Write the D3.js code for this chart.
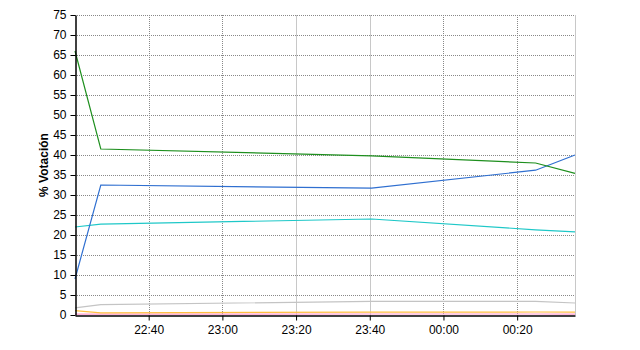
<!DOCTYPE html>
<html><head><meta charset="utf-8">
<script src="https://cdn.jsdelivr.net/npm/d3@7"></script>
<style>body{margin:0;background:#fff}svg{display:block}text{font-family:"Liberation Sans",Arial,sans-serif}</style>
</head><body><svg id="c" width="640" height="350"></svg>
<script>
// data: minutes after 22:20
const times = [0, 7, 80.5, 125, 135.7];
const green = [66, 41.5, 39.8, 38, 35.4];
const blue = [9, 32.5, 31.7, 36.2, 40];
const cyan = [22, 22.7, 24, 21.3, 20.8];
const gray = [1.8, 2.6, 3.4, 3.4, 3.0];
const orange = [1.1, 0.55, 0.7, 0.75, 0.7];
const pink = [0.2, 0.2, 0.25, 0.25, 0.2];
const yTicks = [0,5,10,15,20,25,30,35,40,45,50,55,60,65,70,75];
const xTickLabels = ["22:40","23:00","23:20","23:40","00:00","00:20"];
const xTickMinutes = [20,40,60,80,100,120];
const solidGrid = ["23:20","23:40"];
const series = [
  {v: gray, c: "#c4c4c4"},
  {v: pink, c: "#ff99cc"},
  {v: orange, c: "#ffc040"},
  {v: cyan, c: "#1fc8c8"},
  {v: blue, c: "#2f6fd0"},
  {v: green, c: "#1e8f1e"}
];

const svg = d3.select("#c");
const m = {l:75, r:575, t:15, b:315};
const x = d3.scaleLinear().domain([0, 135.7]).range([m.l, m.r]);
const y = d3.scaleLinear().domain([0, 75]).range([m.b, m.t]);

// horizontal grid
svg.append("g").selectAll("line").data(yTicks.filter(d=>d>0)).join("line")
  .attr("x1", m.l).attr("x2", m.r).attr("y1", d=>y(d)+0.5).attr("y2", d=>y(d)+0.5)
  .attr("stroke", "#888").attr("stroke-dasharray", "1,1");
// vertical grid
svg.append("g").selectAll("line").data(xTickMinutes).join("line")
  .attr("x1", d=>Math.round(x(d))+0.5).attr("x2", d=>Math.round(x(d))+0.5)
  .attr("y1", m.t).attr("y2", m.b)
  .attr("stroke", (d,i)=> solidGrid.includes(xTickLabels[i]) ? "#c8c8c8" : "#888")
  .attr("stroke-dasharray", (d,i)=> solidGrid.includes(xTickLabels[i]) ? null : "1,1");
// right border
svg.append("line").attr("x1", m.r+0.5).attr("x2", m.r+0.5).attr("y1", m.t).attr("y2", m.b)
  .attr("stroke", "#c8c8c8");

const line = d3.line().x((d,i)=>x(times[i])).y(d=>y(d));
series.forEach(s => {
  svg.append("path").attr("d", line(s.v)).attr("fill","none")
    .attr("stroke", s.c).attr("stroke-width", 1.2);
});

// axes
const yAxis = d3.axisLeft(y).tickValues(yTicks).tickSize(5).tickSizeOuter(0);
const gy = svg.append("g").attr("transform", `translate(${m.l+0.5},0)`).call(yAxis);
gy.selectAll("text").attr("font-size", 12).attr("fill", "#000").attr("dx", "-1");
gy.selectAll("line").attr("stroke", "#000");
gy.select(".domain").attr("stroke", "#000").attr("stroke-width", 1.5);

const xAxis = d3.axisBottom(x).tickValues(xTickMinutes).tickFormat((d,i)=>xTickLabels[i]).tickSize(5).tickSizeOuter(0);
const gx = svg.append("g").attr("transform", `translate(0,${m.b+0.5})`).call(xAxis);
gx.selectAll("text").attr("font-size", 12).attr("fill", "#000").attr("dy", "0.9em");
gx.selectAll("line").attr("stroke", "#000");
gx.select(".domain").attr("stroke", "#000").attr("stroke-width", 1.5);

svg.append("text").attr("transform", "translate(48,165) rotate(-90)")
  .attr("text-anchor", "middle").attr("font-size", 12).attr("font-weight", "bold")
  .text("% Votación");
</script></body></html>
